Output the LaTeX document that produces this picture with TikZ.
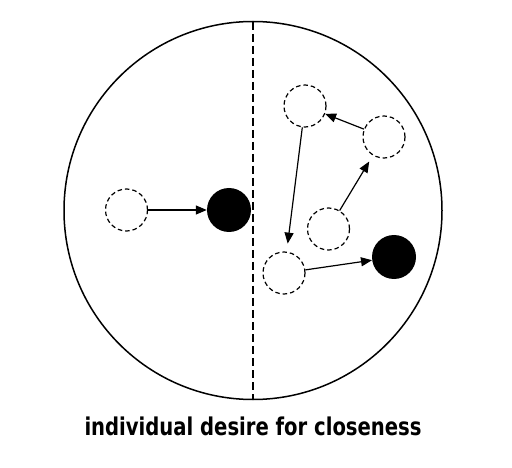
\documentclass[tikz,border=0pt]{standalone}
\usepackage{fontspec}
\newfontfamily\labelfont{DejaVu Sans}
\usetikzlibrary{arrows.meta}
\tikzset{
    ghost/.style={circle, draw, line width=1.2pt, dash pattern=on 4.5pt off 3pt, minimum size=42pt, inner sep=0pt},
    person/.style={circle, fill=black, minimum size=44pt, inner sep=0pt},
    move/.style={-{Triangle[length=11pt,width=9pt]}, line width=1.2pt},
}
\begin{document}
\begin{tikzpicture}[x=1pt, y=-1pt]
    \useasboundingbox (0,0) rectangle (512,468);
    \draw[line width=1.5pt] (253,210.5) circle (189);
    \draw[line width=1.4pt, dash pattern=on 8pt off 4pt] (253,22) -- (253,399);
    % left half
    \node[ghost] (lstart) at (126.5,210) {};
    \node[person] (lend) at (229,210) {};
    \draw[move] (lstart) -- (lend);
    % right half
    \node[ghost] (rtop) at (305,106) {};
    \node[ghost] (rright) at (384,137) {};
    \node[ghost] (rmid) at (328.5,229) {};
    \node[ghost] (rlow) at (284,273) {};
    \node[person] (rend) at (394,257) {};
    \draw[move] (rright) -- (rtop);
    \draw[move, shorten >=8pt] (rtop) -- (rlow);
    \draw[move, shorten >=7pt] (rmid) -- (rright);
    \draw[move] (rlow) -- (rend);
    \node (caption) at (253,426) {\labelfont\fontsize{24.5}{28}\selectfont\bfseries\scalebox{0.8}[1]{individual desire for closeness}};
\end{tikzpicture}
\end{document}
